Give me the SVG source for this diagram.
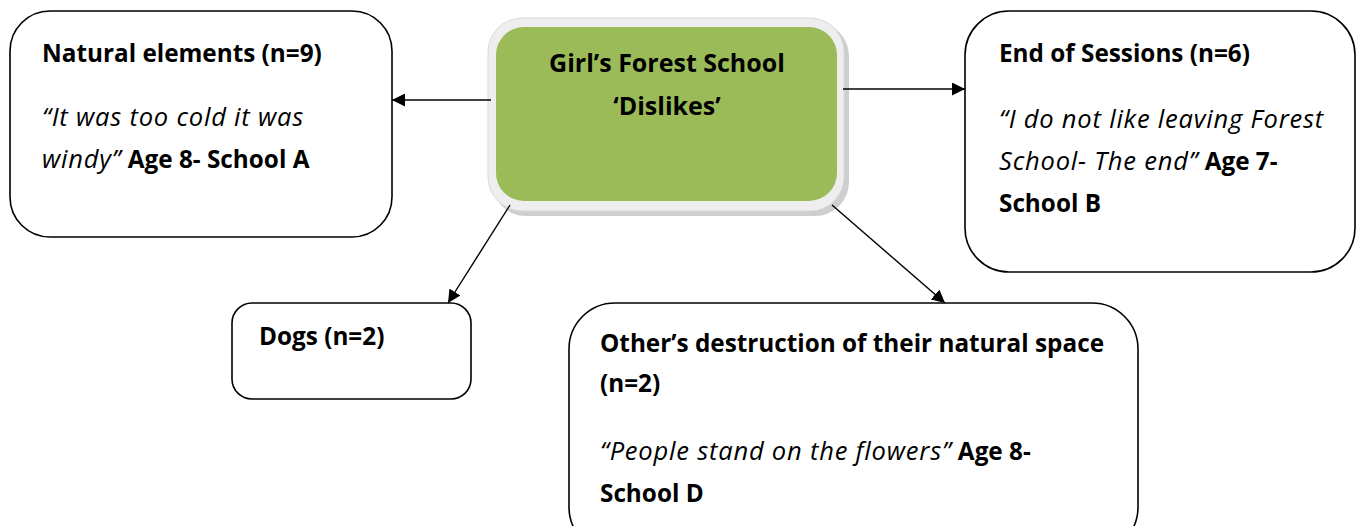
<svg xmlns="http://www.w3.org/2000/svg" width="1362" height="526" viewBox="0 0 1362 526">
  <defs>
    <style>
      .box { fill: #ffffff; stroke: #000000; stroke-width: 1.6; }
      .t { font-family: "Open Sans", "Liberation Sans", sans-serif; font-size: 24.3px; fill: #000000; }
      .b { font-weight: bold; }
      .i { font-style: italic; font-size: 25.5px; letter-spacing: 0.8px; }
      .head { font-family: "Open Sans", "Liberation Sans", sans-serif; font-size: 25px; font-weight: bold; fill: #000000; text-anchor: middle; }
      .conn { stroke: #000000; stroke-width: 1.4; fill: none; marker-end: url(#arrow); }
    </style>
    <marker id="arrow" viewBox="0 0 10 10" refX="10" refY="5" markerWidth="13" markerHeight="13" markerUnits="userSpaceOnUse" orient="auto">
      <path d="M0,0 L10,5 L0,10 z" fill="#000000"/>
    </marker>
  </defs>

  <rect width="1362" height="526" fill="#ffffff"/>

  <!-- central topic -->
  <g id="centre">
    <rect x="492" y="22" width="357" height="194" rx="34" fill="#a6a6a6" opacity="0.55"/>
    <rect x="488" y="18" width="356" height="193" rx="34" fill="#eeeeee" stroke="#d9d9d9" stroke-width="1"/>
    <rect x="496" y="27" width="341" height="174" rx="28" fill="#9bbb59"/>
    <text class="head" x="667" y="72">Girl’s Forest School</text>
    <text class="head" x="667" y="115">‘Dislikes’</text>
  </g>

  <g id="natural">
    <rect class="box" x="10" y="11" width="382" height="226" rx="40"/>
    <text class="t b" x="42" y="62">Natural elements (n=9)</text>
    <text class="t i" x="42" y="126">“It was too cold it was</text>
    <text class="t" x="42" y="168"><tspan class="i">windy”</tspan><tspan class="b"> Age 8- School A</tspan></text>
  </g>

  <g id="end-of-sessions">
    <rect class="box" x="965" y="11" width="390" height="261" rx="44"/>
    <text class="t b" x="999" y="62">End of Sessions (n=6)</text>
    <text class="t i" x="999" y="128">“I do not like leaving Forest</text>
    <text class="t" x="999" y="170"><tspan class="i">School- The end”</tspan><tspan class="b"> Age 7-</tspan></text>
    <text class="t b" x="999" y="212">School B</text>
  </g>

  <g id="dogs">
    <rect class="box" x="232" y="303" width="239" height="96" rx="20"/>
    <text class="t b" x="259" y="345">Dogs (n=2)</text>
  </g>

  <g id="destruction">
    <rect class="box" x="569" y="303" width="569" height="250" rx="46"/>
    <text class="t b" x="600" y="352">Other’s destruction of their natural space</text>
    <text class="t b" x="600" y="392">(n=2)</text>
    <text class="t" x="600" y="460"><tspan class="i">“People stand on the flowers”</tspan><tspan class="b"> Age 8-</tspan></text>
    <text class="t b" x="600" y="502">School D</text>
  </g>

  <g id="connectors">
    <line class="conn" x1="491" y1="100" x2="392" y2="100"/>
    <line class="conn" x1="843" y1="89" x2="965" y2="89"/>
    <line class="conn" x1="510" y1="205" x2="448" y2="303"/>
    <line class="conn" x1="832" y1="205" x2="945" y2="303"/>
  </g>
</svg>
